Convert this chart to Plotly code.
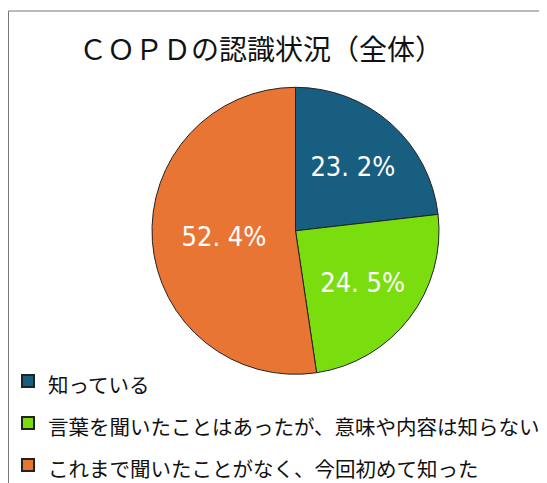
import plotly.graph_objects as go

labels = ["知っている", "言葉を聞いたことはあったが、意味や内容は知らない", "これまで聞いたことがなく、今回初めて知った"]
values = [23.2, 24.5, 52.4]
text_labels = ["23. 2%", "24. 5%", "52. 4%"]
colors = ["#175E80", "#7ADE0E", "#E97535"]
title = "ＣＯＰＤの認識状況（全体）"

# page body has an 8px margin; figure coordinates are page coordinates minus 8
W, H = 539, 483
cx, cy, r = 287.5, 222.8, 143.5

legend_labels = ['<span style="font-size:20.5px">%s</span>' % s for s in labels]

fig = go.Figure(go.Pie(
    labels=legend_labels, values=values, text=text_labels,
    textinfo="text", textposition="inside", insidetextorientation="horizontal",
    textfont=dict(color="white", size=27,
                  family="Liberation Sans Narrow, DejaVu Sans Condensed, Arial Narrow, sans-serif"),
    marker=dict(colors=colors, line=dict(color="#222222", width=1)),
    sort=False, direction="clockwise", rotation=0,
    domain=dict(x=[(cx - r) / W, (cx + r) / W], y=[1 - (cy + r) / H, 1 - (cy - r) / H]),
    hovertemplate="%{label}<br>%{percent}<extra></extra>",
))

fig.update_layout(
    width=W, height=H,
    margin=dict(l=0, r=0, t=0, b=0),
    paper_bgcolor="white",
    font=dict(family="Noto Sans CJK JP", color="#111111"),
    title=dict(text=title, x=253 / W, xanchor="center", y=1 - 42 / H, yanchor="middle",
               font=dict(size=28, color="#111111")),
    showlegend=True,
    legend=dict(x=0, xanchor="left", y=1 - 347 / H, yanchor="top",
                font=dict(size=30, color="#111111"), itemsizing="constant",
                bgcolor="rgba(0,0,0,0)", borderwidth=0, tracegroupgap=0),
    shapes=[dict(type="rect", xref="paper", yref="paper",
                 x0=0.5 / W, x1=1.05, y0=-0.05, y1=1 - 3 / H,
                 line=dict(color="#777777", width=1), layer="below")],
)

fig.write_html("out.html")
